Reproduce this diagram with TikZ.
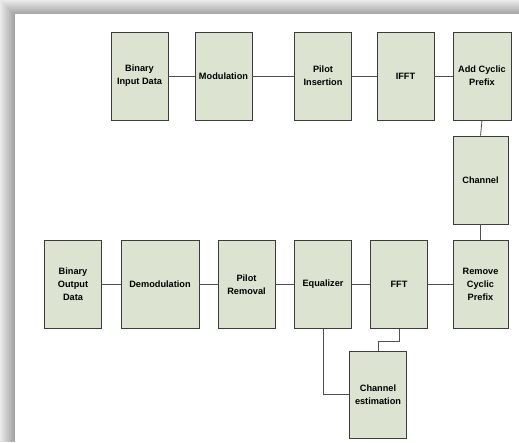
\documentclass[tikz,border=0pt]{standalone}
\usepackage{fontspec}
\setmainfont{Liberation Sans}
\definecolor{boxfill}{HTML}{DCE3D1}
\definecolor{boxline}{HTML}{3C3C3C}
\definecolor{wireline}{HTML}{505050}

\begin{document}
\begin{tikzpicture}[x=1pt, y=-1pt,
    block/.style={draw=boxline, fill=boxfill, line width=0.8pt,
      minimum width=57pt, minimum height=88pt, inner sep=1pt,
      align=center, font=\fontsize{9.2}{13}\selectfont\bfseries},
    wire/.style={draw=wireline, line width=0.8pt}]
  \useasboundingbox (0, 0) rectangle (519, 442);
  %
  % shadow round the sheet
  \newcommand{\shadowsteps}{14}
  \foreach \i in {0,...,\shadowsteps} {
    \pgfmathsetmacro{\shade}{8 + 2 * \i}
    \fill[black!\shade] (\i, \i) rectangle (519, 442);
  }
  \fill[white] (15, 14) rectangle (519, 442);
  %
  % transmitter
  \node[block] at (139.5, 76) (binin) {Binary\\Input Data};
  \node[block] at (223.5, 76) (mod) {Modulation};
  \node[block] at (323, 76) (pilotins) {Pilot\\Insertion};
  \node[block] at (405.5, 76) (ifft) {IFFT};
  \node[block, minimum width=58pt] at (482, 76) (addcp) {Add Cyclic\\Prefix};
  %
  \node[block, minimum width=55pt] at (480.5, 180) (channel) {Channel};
  %
  % receiver
  \node[block, minimum width=55pt] at (480.5, 284.5) (remcp) {Remove\\Cyclic\\Prefix};
  \node[block] at (399, 284.5) (fft) {FFT};
  \node[block] at (323, 284.5) (equal) {Equalizer};
  \node[block] at (246.5, 284.5) (pilotrem) {Pilot\\Removal};
  \node[block, minimum width=78pt] at (160, 284.5) (demod) {Demodulation};
  \node[block] at (73, 284.5) (binout) {Binary\\Output\\Data};
  %
  \node[block, minimum height=87pt] at (378, 394.5) (chest) {Channel\\estimation};
  %
  \draw[wire] (binin) -- (mod);
  \draw[wire] (mod) -- (pilotins);
  \draw[wire] (pilotins) -- (ifft);
  \draw[wire] (ifft) -- (addcp);
  \draw[wire] (addcp.south) -- (channel.north);
  \draw[wire] (channel.south) -- (remcp.north);
  \draw[wire] (remcp) -- (fft);
  \draw[wire] (fft) -- (equal);
  \draw[wire] (equal) -- (pilotrem);
  \draw[wire] (pilotrem) -- (demod);
  \draw[wire] (demod) -- (binout);
  %
  \draw[wire] (fft.south) -- ++(0, 12) -| (chest.north);
  \draw[wire] (equal.south) |- (chest.west);

\end{tikzpicture}
\end{document}
